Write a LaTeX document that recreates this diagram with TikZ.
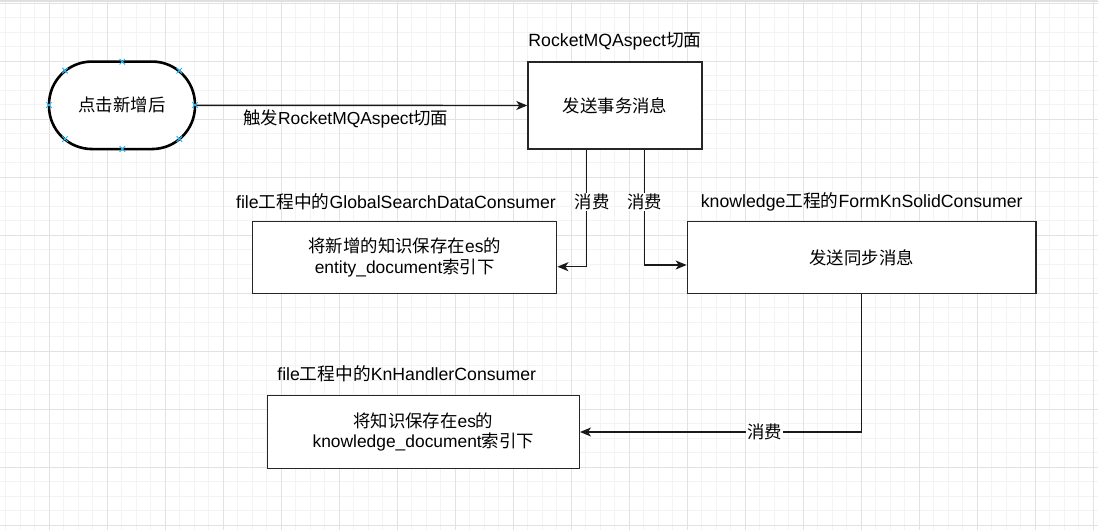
\documentclass[tikz,border=0pt]{standalone}
\usepackage{fontspec}
\setmainfont{Liberation Sans}
\newfontfamily\cjk{Noto Sans CJK SC}
\newcommand\zh[1]{{\cjk #1}}
\usetikzlibrary{arrows.meta,shapes.misc,calc}
\definecolor{gridminor}{HTML}{F3F3F3}
\definecolor{gridmajor}{HTML}{E2E2E2}
\definecolor{handle}{HTML}{29B6F2}
\begin{document}
\begin{tikzpicture}[x=1pt,y=-1pt,
  box/.style={draw=black!85, line width=1.4pt, fill=white, inner sep=0pt, align=center, font=\fontsize{17.4}{20.5}\selectfont},
  termbox/.style={draw=black, line width=2.6pt, fill=white, rounded corners=43pt, inner sep=0pt, font=\fontsize{17.4}{20.5}\selectfont},
  ttl/.style={font=\fontsize{17.7}{20}\selectfont, inner sep=0pt},
  lbl/.style={font=\fontsize{17.4}{20}\selectfont, fill=white, inner sep=1pt},
  conn/.style={draw=black!90, line width=1.4pt, -{Stealth[length=11pt,width=9pt,inset=3pt]}},
  handlemark/.style={cross out, draw=handle, line width=1pt, minimum size=4.5pt, inner sep=0pt}
]
\useasboundingbox (0,0) rectangle (1098,530);
% grid background
\fill[white] (0,0) rectangle (1098,530);
\foreach \i in {0,...,75} {\draw[gridminor, line width=0.8pt] ({5.8+14.5*\i},0) -- ++(0,530);}
\foreach \i in {0,...,36} {\draw[gridminor, line width=0.8pt] (0,{3.3+14.5*\i}) -- ++(1098,0);}
\foreach \i in {0,...,18} {\draw[gridmajor, line width=0.9pt] ({49.3+58*\i},0) -- ++(0,530);}
\foreach \i in {0,...,9} {\draw[gridmajor, line width=0.9pt] (0,{3.3+58*\i}) -- ++(1098,0);}
\fill[black!12] (0,0) rectangle (1098,2);

% nodes
\node[termbox, minimum width=146pt, minimum height=87.5pt] (start) at (122,105.3) {\zh{点击新增后}};
\node[box, minimum width=174pt, minimum height=87pt] (send) at (615,105.5) {\zh{发送事务消息}};
\node[ttl] (t1) at (615,41) {RocketMQAspect\zh{切面}};
\node[box, minimum width=304pt, minimum height=71.6pt] (save1) at (404.7,257.5) {\zh{将新增的知识保存在}es\zh{的}\\entity\_document\zh{索引下}};
\node[ttl] (t2) at (396,201.5) {file\zh{工程中的}GlobalSearchDataConsumer};
\node[box, minimum width=348.7pt, minimum height=71.6pt] (sync) at (861.7,257.5) {\zh{发送同步消息}};
\node[ttl] (t3) at (861.7,201.5) {knowledge\zh{工程的}FormKnSolidConsumer};
\node[box, minimum width=312pt, minimum height=72.6pt] (save2) at (423.3,432) {\zh{将知识保存在}es\zh{的}\\knowledge\_document\zh{索引下}};
\node[ttl] (t4) at (406.7,374) {file\zh{工程中的}KnHandlerConsumer};

% connectors
\draw[conn] (start.east) -- node[font=\fontsize{17.4}{20}\selectfont, inner sep=0pt, xshift=-16pt, yshift=-14pt] {\zh{触发}RocketMQAspect\zh{切面}} (send.west);
\draw[conn] ([xshift=-28.5pt]send.south) |- node[lbl, pos=0.225, xshift=5.5pt] {\zh{消费}} ([yshift=-9.2pt]save1.east);
\draw[conn] ([xshift=29.5pt]send.south) |- node[lbl, pos=0.228] {\zh{消费}} ([yshift=-7.5pt]sync.west);
\draw[conn] (sync.south) |- node[lbl, pos=0.672] {\zh{消费}} (save2.east);

% selection handles on the start shape
\foreach \p in {(122.3,61.7),(65,70.7),(179.3,70.7),(49,105),(195,105),(65,139),(179.3,139),(122.3,149)}
  {\node[handlemark] at \p {};}
\end{tikzpicture}
\end{document}
